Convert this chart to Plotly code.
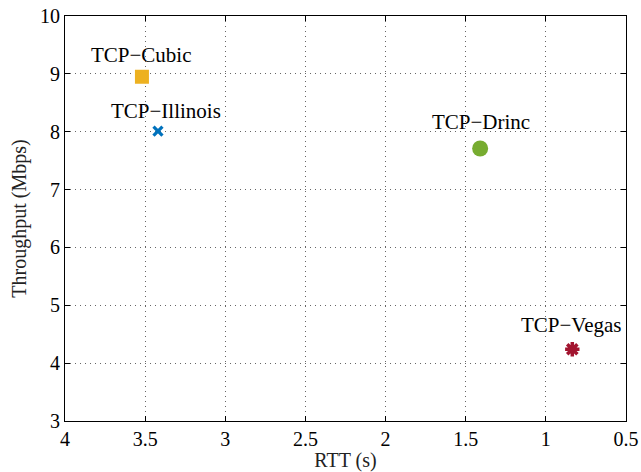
import plotly.graph_objects as go

# Mean RTT vs. throughput for each congestion-control algorithm
protocols = ["TCP\u2212Cubic", "TCP\u2212Illinois", "TCP\u2212Drinc", "TCP\u2212Vegas"]
rtt_s = [3.52, 3.42, 1.41, 0.835]
throughput_mbps = [8.95, 8.01, 7.71, 4.24]

x_ticks = [4, 3.5, 3, 2.5, 2, 1.5, 1, 0.5]
x_tick_text = ["4", "3.5", "3", "2.5", "2", "1.5", "1", "0.5"]
y_ticks = [3, 4, 5, 6, 7, 8, 9, 10]

# Marker styling per protocol
colors = ["#EDB120", "#0072BD", "#77AC30", "#A2142F"]
symbols = ["square", "x-thin", "circle", "asterisk"]
sizes = [14, 9, 16, 12]
line_widths = [0, 3.2, 0, 3.5]

# Label placement relative to each marker (pixels)
label_dx = [0, 8, 1, -1]
label_dy = [22, 20, 26, 24]

FONT = "Liberation Serif, Times New Roman, serif"

fig = go.Figure()
for name, x, y, c, s, sz, lw in zip(protocols, rtt_s, throughput_mbps,
                                    colors, symbols, sizes, line_widths):
    fig.add_trace(go.Scatter(
        x=[x], y=[y], mode="markers", name=name,
        marker=dict(symbol=s, size=sz, color=c,
                    line=dict(color=c, width=lw)),
        showlegend=False, cliponaxis=False,
    ))

for name, x, y, dx, dy in zip(protocols, rtt_s, throughput_mbps, label_dx, label_dy):
    fig.add_annotation(x=x, y=y, text=name, showarrow=False,
                       xshift=dx, yshift=dy, xanchor="center", yanchor="middle",
                       font=dict(family=FONT, size=21, color="black"))

axis_common = dict(
    showline=True, linecolor="black", linewidth=1, mirror="ticks",
    ticks="inside", ticklen=5, tickcolor="black", tickwidth=1,
    showgrid=True, gridcolor="#666666", gridwidth=1, griddash="1px,4px",
    zeroline=False, automargin=False,
    tickfont=dict(family=FONT, size=20, color="black"),
)

fig.update_xaxes(range=[4, 0.5], tickvals=x_ticks, ticktext=x_tick_text,
                 title=dict(text="RTT (s)", standoff=7,
                            font=dict(family=FONT, size=20, color="#222")),
                 **axis_common)
fig.update_yaxes(range=[3, 10], tickvals=y_ticks,
                 title=dict(text="Throughput (Mbps)", standoff=8,
                            font=dict(family=FONT, size=20, color="#222")),
                 **axis_common)

fig.update_layout(
    width=641, height=472,
    margin=dict(l=65, r=15, t=16, b=51, autoexpand=False),
    paper_bgcolor="white", plot_bgcolor="white",
    font=dict(family=FONT, size=20, color="black"),
)

fig.write_html("out.html")
